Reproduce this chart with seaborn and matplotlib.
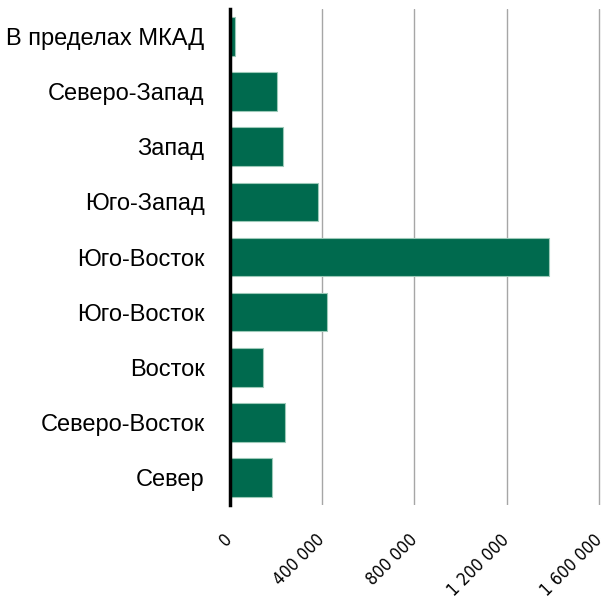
import matplotlib
matplotlib.use("Agg")
import matplotlib.pyplot as plt
import pandas as pd
import seaborn as sns

districts = [
    "В пределах МКАД",
    "Северо-Запад",
    "Запад",
    "Юго-Запад",
    "Юго-Восток",
    "Юго-Восток",
    "Восток",
    "Северо-Восток",
    "Север",
]
values = [25000, 207000, 232000, 383000, 1383000, 421000, 146000, 240000, 185000]
ticks = [0, 400000, 800000, 1200000, 1600000]
tick_labels = ["0", "400 000", "800 000", "1 200 000", "1 600 000"]

# two rows share the same name, so bars are keyed by their position
df = pd.DataFrame({"slot": range(len(districts)), "value": values})

sns.set_style("white")
plt.rcParams["font.family"] = ["Liberation Sans", "DejaVu Sans"]

fig = plt.figure(figsize=(6.01, 5.96), dpi=100)
ax = fig.add_axes([229.5 / 601, 1 - 505 / 596, 1 - 229.5 / 601, 496 / 596])

sns.barplot(data=df, x="value", y="slot", orient="h", color="#006a4e",
            saturation=1, width=0.7, edgecolor="#9cc9b8", linewidth=0.8,
            ax=ax, zorder=3)

ax.set_yticks(range(len(districts)))
ax.set_yticklabels(districts)
ax.set_xlim(0, 1608000)
ax.set_xticks(ticks)
ax.set_xticklabels(tick_labels, rotation=45, ha="right", va="center",
                   rotation_mode="anchor", color="black",
                   family="DejaVu Sans", fontstretch="condensed", fontsize=12.5)
ax.tick_params(axis="x", length=0, pad=23)
ax.tick_params(axis="y", length=0, pad=18, labelsize=17, labelcolor="black")
ax.grid(axis="x", color="#a6a6a6", linewidth=1, zorder=0)
ax.set_xlabel("")
ax.set_ylabel("")
for side in ["top", "right", "bottom"]:
    ax.spines[side].set_visible(False)
ax.spines["left"].set_color("black")
ax.spines["left"].set_linewidth(2.5)
ax.spines["left"].set_zorder(5)

fig.savefig("out.png", dpi=100)
